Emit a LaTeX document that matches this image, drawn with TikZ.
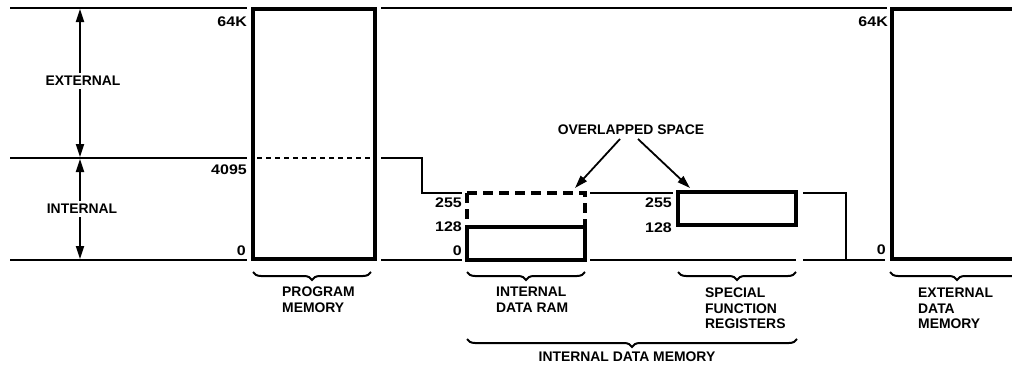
\documentclass[tikz,border=0pt]{standalone}
\usepackage{fontspec}
\setmainfont{Liberation Sans}
\newfontfamily\numfont{Liberation Sans}[FakeStretch=1.15]
\usetikzlibrary{arrows.meta,decorations.pathreplacing,calc}
\begin{document}
\begin{tikzpicture}[x=1pt,y=-1pt,
  rule/.style={line width=1.2pt},
  membox/.style={draw, line width=3.8pt, inner sep=0pt, outer sep=0pt, anchor=north west},
  txt/.style={font=\bfseries\fontsize{13.9}{15.5}\selectfont, inner sep=0pt, align=left, anchor=north west},
  num/.style={font=\numfont\bfseries\fontsize{13.9}{15}\selectfont, inner sep=0pt, anchor=east},
  dbl/.style={line width=1.8pt, {Triangle[length=13pt,width=8pt]}-{Triangle[length=13pt,width=8pt]}},
  ptr/.style={line width=1.8pt, -{Triangle[length=13pt,width=8pt]}},
  brc/.style={line width=2pt, decorate, decoration={brace,mirror,amplitude=8pt}},
]
\useasboundingbox (0,0) rectangle (1012,372);

% memory boxes
\node[membox, minimum width=122pt, minimum height=250pt] (pm) at (253,9) {};
\node[membox, minimum width=118pt, minimum height=33pt] (idr) at (467,227) {};
\node[membox, minimum width=118pt, minimum height=33pt] (sfr) at (678,192) {};
\node[membox, minimum width=150pt, minimum height=250pt] (edm) at (892,9) {};

% dashed upper half of internal data RAM
\coordinate (idrtl) at (467,193);
\coordinate (idrtr) at (585,193);
\draw[line width=3.8pt, dash pattern=on 10pt off 6pt] (idrtl) -- (idr.north west);
\draw[line width=3.8pt, dash pattern=on 10pt off 6pt] (idrtl) -- (idrtr) -- (idr.north east);

% thin level lines
\draw[rule] (10,8) -- (247,8);
\draw[rule] (381,8) -- (887,8);
\draw[rule] (10,158) -- (247,158);
\draw[rule, dash pattern=on 5pt off 4pt] (257,158) -- (373,158);
\draw[rule] (381,158) -- (422,158) -- (422,193) -- (462,193);
\draw[rule] (590,193) -- (673,193);
\draw[rule] (803,193) -- (846,193) -- (846,260) -- (885,260);
\draw[rule] (10,260) -- (247,260);
\draw[rule] (381,260) -- (462,260);
\draw[rule] (590,260) -- (796,260);
\draw[rule] (803,260) -- (846,260);

% vertical range arrows
\coordinate (a1) at (80,9);
\coordinate (a2) at (80,157);
\coordinate (a3) at (80,159);
\coordinate (a4) at (80,259);
\draw[dbl] (a1) -- (a2);
\draw[dbl] (a3) -- (a4);
\node[txt, anchor=center, fill=white, inner sep=3pt] (ext) at (83,81) {EXTERNAL};
\node[txt, anchor=center, fill=white, inner sep=3pt] (int) at (82,209) {INTERNAL};

% address labels
\node[num] (n64a) at (247,22) {64K};
\node[num] (n4095) at (247,170) {4095};
\node[num] (n0a) at (246,251) {0};
\node[num] (n255a) at (462,203) {255};
\node[num] (n128a) at (462,227) {128};
\node[num] (n0b) at (462,251) {0};
\node[num] (n255b) at (672,203) {255};
\node[num] (n128b) at (672,228) {128};
\node[num] (n64b) at (888,22) {64K};
\node[num] (n0c) at (886,250) {0};

% overlapped space
\node[txt, anchor=center] (ov) at (631,130) {OVERLAPPED SPACE};
\coordinate (o1) at (620,139);
\coordinate (o1t) at (575,188);
\coordinate (o2) at (638,139);
\coordinate (o2t) at (690,188);
\draw[ptr] (o1) -- (o1t);
\draw[ptr] (o2) -- (o2t);

% braces
\draw[brc] (253,272) -- (371,272);
\draw[brc] (467,272) -- (585,272);
\draw[brc] (678,272) -- (796,272);
\draw[brc] (890,272) -- (1024,272);
\draw[brc] (467,339) -- (797,339);

% names
\node[txt] (pmlab) at (282,287) {PROGRAM\\MEMORY};
\node[txt] (idrlab) at (496,287) {INTERNAL\\DATA RAM};
\node[txt] (sfrlab) at (705,288) {SPECIAL\\FUNCTION\\REGISTERS};
\node[txt] (edmlab) at (918,288) {EXTERNAL\\DATA\\MEMORY};
\node[txt, anchor=north] (idm) at (627,352) {INTERNAL DATA MEMORY};
\end{tikzpicture}
\end{document}
